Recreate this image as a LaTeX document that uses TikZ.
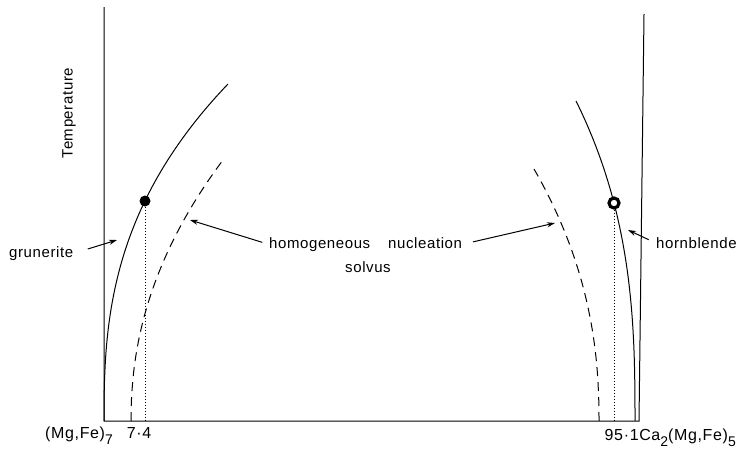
\documentclass[tikz,border=0pt]{standalone}
\usepackage{fontspec}
\setmainfont{Liberation Sans}[LetterSpace=4]
\usetikzlibrary{arrows.meta}

\newcommand{\dropsub}[1]{\raisebox{-6pt}{\fontsize{14}{14}\selectfont #1}}

\begin{document}
\begin{tikzpicture}[
    x=1pt, y=-1pt,
    axis/.style={line width=1pt},
    solvus/.style={line width=1pt},
    nucl/.style={line width=1pt, dash pattern=on 9pt off 6pt},
    drop/.style={line width=0.9pt, dash pattern=on 1pt off 2pt},
    lbl/.style={font=\fontsize{15}{17}\selectfont, inner sep=1pt},
    arrow/.style={-{Stealth[length=8pt,width=5pt]}, line width=1pt},
    gdotstyle/.style={circle, fill=black, inner sep=0pt, minimum size=11pt},
    hdotstyle/.style={circle, draw=black, fill=white, line width=3.2pt, inner sep=0pt, minimum size=10pt},
]
\useasboundingbox (0,0) rectangle (738,463);

% axes
\coordinate (origin) at (104,421);
\coordinate (ytop) at (104,7);
\coordinate (xend) at (639,421);
\coordinate (rtop) at (644,14);
\draw[axis] (ytop) -- (origin) -- (xend) -- (rtop);

% solvus (solid) and homogeneous nucleation (dashed) curves
\draw[solvus] plot[domain=0.01:337, samples=80] ({104+124*(\x/337)^2.6}, {421-\x});
\draw[nucl] plot[domain=0.01:261, samples=80] ({131+92*(\x/261)^2.12}, {421-\x});
\draw[solvus] plot[domain=0.01:320, samples=80] ({635-59*(\x/320)^2.69}, {421-\x});
\draw[nucl] plot[domain=0.01:252, samples=80] ({599-65*(\x/252)^2.23}, {421-\x});

% compositions at the chosen temperature
\node[gdotstyle] (gdot) at (145,201) {};
\node[hdotstyle] (hdot) at (614,203) {};
\draw[drop] (gdot) -- (gdot |- origin);
\draw[drop] (hdot) -- (hdot |- origin);

% labels
\node[lbl, rotate=90] (temp) at (69,113) {Temperature};
\node[lbl, anchor=base west] (grun) at (8,257) {grunerite};
\node[lbl, anchor=base west] (homnuc) at (268,248) {homogeneous\hspace{18pt}nucleation};
\node[lbl, anchor=base] (solv) at (368,272) {solvus};
\node[lbl, anchor=base west] (hbl) at (655,248) {hornblende};

\node[lbl, anchor=base west, font=\fontsize{16}{18}\selectfont] (mgfe) at (44,438) {(Mg,Fe)\dropsub{7}};
\node[lbl, anchor=base, font=\fontsize{16}{18}\selectfont] (seven) at (139,438) {7·4};
\node[lbl, anchor=base east, font=\fontsize{16}{18}\selectfont] (cafe) at (737,440) {95·1Ca\dropsub{2}(Mg,Fe)\dropsub{5}};

% arrows
\coordinate (gtip) at (117,240);
\coordinate (ltip) at (190,220);
\coordinate (rtip) at (555,223);
\coordinate (htip) at (628,230);
\draw[arrow, shorten <=14pt] (grun.east) -- (gtip);
\draw[arrow, shorten <=6pt] (homnuc.west) -- (ltip);
\draw[arrow, shorten <=10pt] (homnuc.east) -- (rtip);
\draw[arrow, shorten <=7pt] (hbl.west) -- (htip);

\end{tikzpicture}
\end{document}
